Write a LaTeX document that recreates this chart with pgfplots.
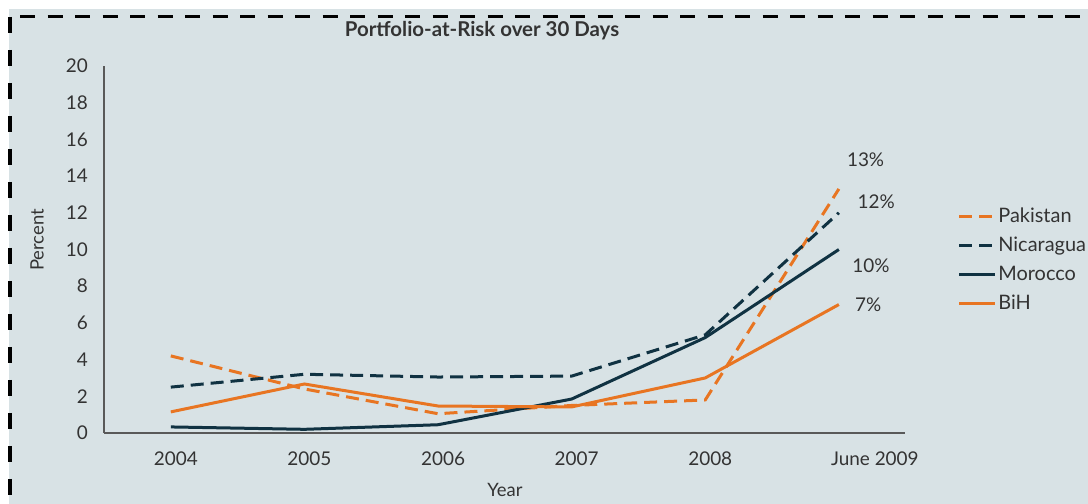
\documentclass[border=0pt]{standalone}
\usepackage{pgfplots}
\pgfplotsset{compat=1.18}
\usepackage{fontspec}
\setmainfont{Lato}
\definecolor{bg}{RGB}{216,226,229}
\definecolor{orn}{RGB}{232,117,34}
\definecolor{nav}{RGB}{16,50,66}
\definecolor{txt}{RGB}{51,51,51}
\begin{document}
\begin{tikzpicture}[x=1bp,y=1bp]
\useasboundingbox (0,0) rectangle (1088,504);
\fill[white] (0,0) rectangle (1088,504);
\fill[bg] (9,0) rectangle (1088,495);
\draw[black, line width=3bp, dash pattern=on 15bp off 12.5bp] (20,487.5) -- (1088,487.5);
\draw[black, line width=3.5bp, dash pattern=on 16bp off 17bp] (10,487) -- (10,0);
\node[font=\bfseries\fontsize{20.5}{24}\selectfont, text=txt] at (482,473) {Portfolio-at-Risk over 30 Days};
\node[font=\fontsize{18.5}{22}\selectfont, text=txt, rotate=90] at (37,264) {Percent};
\node[font=\fontsize{18.5}{22}\selectfont, text=txt] at (505,14) {Year};
\begin{axis}[
  at={(104bp,71bp)}, anchor=south west,
  scale only axis, width=801bp, height=367bp,
  xmin=-0.5, xmax=5.495, ymin=0, ymax=20,
  axis x line=bottom, axis y line=left,
  axis line style={-, draw=black!65, line width=1.2bp},
  xtick={0,1,2,3,4,5},
  xticklabels={2004,2005,2006,2007,2008,{\hspace*{62bp}June 2009}},
  ytick={0,2,...,20},
  major tick length=0pt,
  tick label style={font=\fontsize{19}{22}\selectfont, text=txt},
  /pgf/number format/assume math mode=true,
  xticklabel style={inner sep=0pt, anchor=north, yshift=-19bp, xshift=5bp},
  yticklabel style={inner sep=0pt, anchor=east, xshift=-16bp},
  clip=false,
  legend style={at={(axis description cs:1.062,0.472)}, anchor=west, draw=none, fill=none,
    font=\fontsize{20}{24}\selectfont, text=txt, row sep=10bp, nodes={inner sep=1.5bp}},
  legend cell align=left,
  legend image code/.code={\draw[#1] (0bp,0bp) -- (36bp,0bp);},
]
\addplot[orn, line width=3bp, dash pattern=on 13bp off 7bp] coordinates {(0,4.2)(1,2.4)(2,1.05)(3,1.5)(4,1.8)(5,13.3)};
\addlegendentry{Pakistan}
\addplot[nav, line width=3bp, dash pattern=on 13bp off 7bp] coordinates {(0,2.5)(1,3.2)(2,3.05)(3,3.1)(4,5.35)(5,12.0)};
\addlegendentry{Nicaragua}
\addplot[nav, line width=3bp] coordinates {(0,0.33)(1,0.2)(2,0.45)(3,1.85)(4,5.2)(5,10.0)};
\addlegendentry{Morocco}
\addplot[orn, line width=3bp] coordinates {(0,1.15)(1,2.67)(2,1.47)(3,1.42)(4,3.0)(5,7.0)};
\addlegendentry{BiH}
\node[font=\fontsize{19}{22}\selectfont, text=txt] at (axis cs:5.20,14.9) {13\%};
\node[font=\fontsize{19}{22}\selectfont, text=txt] at (axis cs:5.28,12.6) {12\%};
\node[font=\fontsize{19}{22}\selectfont, text=txt] at (axis cs:5.24,9.1) {10\%};
\node[font=\fontsize{19}{22}\selectfont, text=txt] at (axis cs:5.22,7.0) {7\%};
\end{axis}
\end{tikzpicture}
\end{document}
